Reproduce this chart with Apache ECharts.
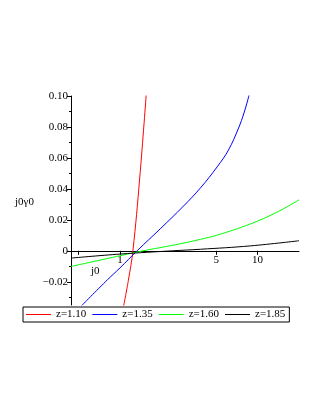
<!DOCTYPE html>
<html>
<head>
<meta charset="utf-8">
<script src="https://cdn.jsdelivr.net/npm/echarts@6/dist/echarts.min.js"></script>
<style>
html, body { margin: 0; padding: 0; background: #fff; }
#chart { width: 323px; height: 418px; }
</style>
</head>
<body>
<div id="chart"></div>
<script>
// curves (x is j0, log axis)
var redX = [1.06, 1.15, 1.24, 1.39, 1.55];
var redY = [-0.036, -0.019, 0, 0.047, 0.101];
var blueX = [0.525, 0.81, 1.0, 1.33, 1.96, 2.9, 3.84, 5.08, 6.14, 7.27, 7.96, 8.7];
var blueY = [-0.0355, -0.0187, -0.011, 0, 0.0142, 0.029, 0.0406, 0.0542, 0.0651, 0.0793, 0.089, 0.101];
var greenX = [0.44, 1.0, 1.47, 2.52, 3.84, 5.02, 8.89, 13.5, 20];
var greenY = [-0.0101, -0.0032, 0, 0.0039, 0.0074, 0.01, 0.0174, 0.0245, 0.0329];
var blackX = [0.44, 1.0, 2.4, 3.84, 8.89, 20];
var blackY = [-0.0047, -0.0021, 0, 0.001, 0.0032, 0.0065];
var names = ['z=1.10', 'z=1.35', 'z=1.60', 'z=1.85'];
var colors = ['#ff0000', '#0000ff', '#00ff00', '#000000'];
var xTicks = [0.5, 1, 5, 10];
var xLabels = [1, 5, 10];
var yLabels = [-0.02, 0, 0.02, 0.04, 0.06, 0.08, 0.1];
var yMinor = [-0.03, -0.01, 0.01, 0.03, 0.05, 0.07, 0.09];
var yMin = -0.035;
var yMax = 0.1;

var font = '"Liberation Serif", "Times New Roman", serif';
var gridTop = 96, gridBottom = 113;
var gridH = 418 - gridTop - gridBottom;
// x axis sits on y = 0
var xOffset = -(0 - yMin) / (yMax - yMin) * gridH;

var chart = echarts.init(document.getElementById('chart'));

let pairs = function (xs, ys) {
    return xs.map(function (x, i) { return [x, ys[i]]; });
};
var allX = [redX, blueX, greenX, blackX];
var allY = [redY, blueY, greenY, blackY];
var series = names.map(function (n, i) {
    return {
        name: n,
        type: 'line',
        data: pairs(allX[i], allY[i]),
        showSymbol: false,
        smooth: 0.4,
        lineStyle: { color: colors[i], width: 1 },
        itemStyle: { color: colors[i] }
    };
});

var option = {
    animation: false,
    backgroundColor: '#fff',
    grid: { left: 71, right: 24, top: gridTop, bottom: gridBottom },
    xAxis: {
        type: 'log',
        logBase: 10,
        min: 0.44,
        max: 20,
        position: 'bottom',
        offset: xOffset,
        axisLine: { onZero: false, lineStyle: { color: '#000', width: 1 } },
        axisTick: { customValues: xTicks, length: 4, lineStyle: { color: '#000' } },
        axisLabel: {
            customValues: xLabels,
            margin: 4,
            color: '#000',
            fontFamily: font,
            fontSize: 11,
            formatter: function (v) { return String(Math.round(v)); }
        },
        splitLine: { show: false },
        minorTick: { show: false }
    },
    yAxis: [{
        type: 'value',
        min: yMin,
        max: yMax,
        axisLine: { show: true, onZero: false, lineStyle: { color: '#000', width: 1 } },
        axisTick: { customValues: yLabels, length: 4, lineStyle: { color: '#000' } },
        axisLabel: {
            customValues: yLabels,
            margin: 3,
            color: '#000',
            fontFamily: font,
            fontSize: 11,
            formatter: function (v) {
                if (Math.abs(v) < 1e-9) return '0';
                return (v < 0 ? '\u2212' : '') + Math.abs(v).toFixed(2);
            }
        },
        splitLine: { show: false }
    }, {
        type: 'value',
        position: 'left',
        min: yMin,
        max: yMax,
        axisLine: { show: false, onZero: false },
        axisTick: { customValues: yMinor, length: 2, lineStyle: { color: '#000' } },
        axisLabel: { show: false },
        splitLine: { show: false }
    }],
    legend: {
        left: 23,
        top: 307,
        padding: [2, 4, 2, 3],
        itemGap: 6,
        itemWidth: 25,
        itemHeight: 1,
        icon: 'rect',
        borderColor: '#000',
        borderWidth: 1,
        borderRadius: 0,
        textStyle: { color: '#000', fontFamily: font, fontSize: 11 },
        data: names
    },
    graphic: [
        {
            type: 'text', left: 15, top: 197,
            style: { text: 'j0\u03b30', fill: '#000', font: '11px ' + font }
        },
        {
            type: 'text', left: 91, top: 266,
            style: { text: 'j0', fill: '#000', font: '11px ' + font }
        }
    ],
    series: series
};
chart.setOption(option);
</script>
</body>
</html>
